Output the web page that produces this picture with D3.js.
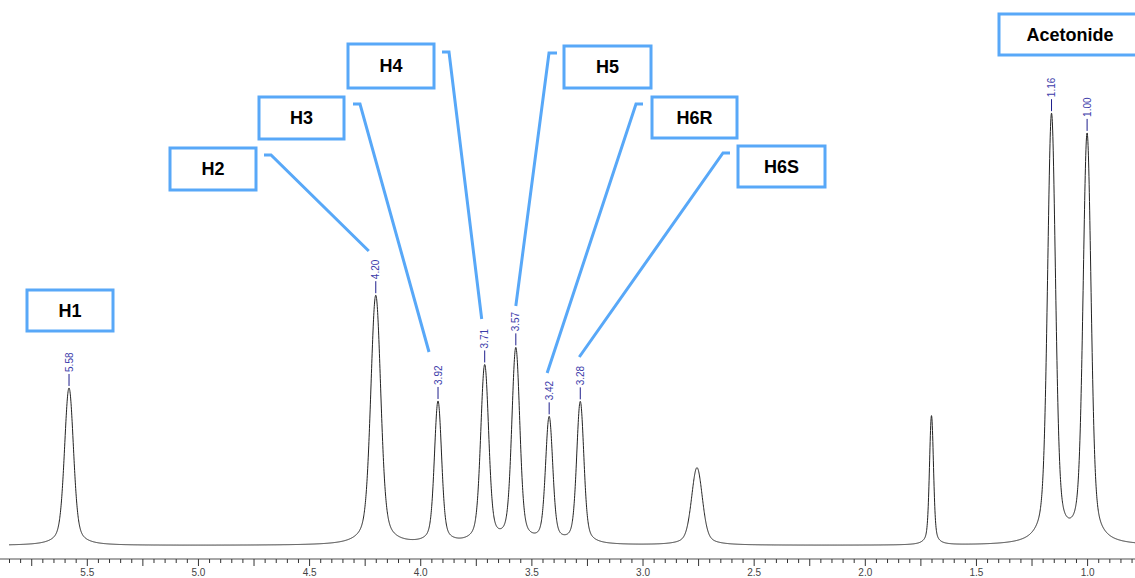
<!DOCTYPE html>
<html>
<head>
<meta charset="utf-8">
<script src="https://cdn.jsdelivr.net/npm/d3@7"></script>
<style>
  html, body { margin: 0; padding: 0; background: #fff; }
  svg { display: block; font-family: "Liberation Sans", Arial, sans-serif; }
</style>
</head>
<body>
<svg id="chart" width="1135" height="578"></svg>
<script>
// ---- data ----
const peakPpm       = [5.58, 4.20, 3.92, 3.71, 3.57, 3.42, 3.28, 2.755, 1.70, 1.16, 1.00];
const peakHeight    = [36.4, 57.7, 32.8, 41.0, 44.9, 28.9, 32.8, 17.9, 29.9, 99.1, 94.5];
const peakWidth     = [0.045, 0.05, 0.036, 0.04, 0.04, 0.036, 0.036, 0.054, 0.02, 0.04, 0.04];
const labeledPpm    = [5.58, 4.20, 3.92, 3.71, 3.57, 3.42, 3.28, 1.16, 1.00];
const labeledText   = ["5.58", "4.20", "3.92", "3.71", "3.57", "3.42", "3.28", "1.16", "1.00"];
const assignNames   = ["H1", "H2", "H3", "H4", "H5", "H6R", "H6S", "Acetonide"];
const assignPpm     = [5.58, 4.20, 3.92, 3.71, 3.57, 3.42, 3.28, 1.16];
const tickLabels    = ["5.5", "5.0", "4.5", "4.0", "3.5", "3.0", "2.5", "2.0", "1.5", "1.0"];

// ---- layout (annotation boxes, leaders) ----
const boxLayout = [
  {x: 27,  y: 290, w: 86,  h: 41, lead: null},
  {x: 170, y: 148, w: 86,  h: 42, lead: [[264,155],[271,155]], dx: -7,  endY: 251},
  {x: 259, y: 97,  w: 85,  h: 42, lead: [[353,104],[360,104]], dx: -9,  endY: 352},
  {x: 348, y: 44,  w: 86,  h: 44, lead: [[442,52],[449,52]],   dx: -3,  endY: 319},
  {x: 564, y: 46,  w: 87,  h: 42, lead: [[557,53],[549,53]],   dx: 0,   endY: 306},
  {x: 652, y: 97,  w: 85,  h: 41, lead: [[643,104],[636,104]], dx: -2,  endY: 373},
  {x: 738, y: 146, w: 87,  h: 41, lead: [[730,153],[723,153]], dx: -1,  endY: 357},
  {x: 999, y: 14,  w: 142, h: 41, lead: null}
];

const svg = d3.select("#chart");
const x = d3.scaleLinear().domain([5.85, 0.78]).range([9, 1136]);
const y = d3.scaleLinear().domain([0, 100]).range([545.5, 113]);

const eta = 0.3, LN2 = Math.LN2;
function intensity(p) {
  let s = 0;
  for (let i = 0; i < peakPpm.length; i++) {
    const d = p - peakPpm[i], w = peakWidth[i];
    const g = Math.exp(-4 * LN2 * (d / w) * (d / w));
    const wl = 1.4 * w;
    const l = 1 / (1 + (2 * d / wl) * (2 * d / wl));
    s += peakHeight[i] * ((1 - eta) * g + eta * l);
  }
  return s;
}

// spectrum trace
const samples = d3.range(5.85, 0.7799, -0.0008).map(p => [p, intensity(p)]);
svg.append("path")
  .datum(samples)
  .attr("fill", "none")
  .attr("stroke", "#222")
  .attr("stroke-width", 1)
  .attr("d", d3.line().x(d => x(d[0])).y(d => y(d[1])));

// axis
const tickVals = d3.range(16, 118).map(i => +(i * 0.05).toFixed(2));
const labelSet = new Map(tickLabels.map(t => [+t, t]));
const axis = d3.axisBottom(x)
  .tickValues(tickVals)
  .tickSize(7)
  .tickSizeOuter(0)
  .tickPadding(3)
  .tickFormat(d => labelSet.has(d) ? labelSet.get(d) : "");
const gAxis = svg.append("g").attr("transform", "translate(0,559)").call(axis);
gAxis.select(".domain").attr("stroke", "#8a8a8a").attr("stroke-width", 1.6)
  .attr("d", "M0,0H1135");
gAxis.selectAll(".tick line")
  .attr("stroke", "#333")
  .attr("y2", d => (Math.abs(d / 0.25 - Math.round(d / 0.25)) < 1e-6) ? 7 : 4);
gAxis.selectAll(".tick text")
  .attr("fill", "#444")
  .style("font-size", "10px")
  .style("font-family", "'Liberation Sans', Arial, sans-serif");

// peak labels
const pl = svg.append("g");
labeledPpm.forEach((p, i) => {
  const px = x(p), top = y(intensity(p));
  pl.append("line")
    .attr("x1", px).attr("x2", px)
    .attr("y1", top - 2).attr("y2", top - 14)
    .attr("stroke", "#1e1e8c").attr("stroke-width", 1);
  pl.append("text")
    .attr("transform", `translate(${px},${top - 16}) rotate(-90)`)
    .attr("dy", "0.35em")
    .attr("text-anchor", "start")
    .attr("fill", "#3c3caa")
    .style("font-size", "10px")
    .text(labeledText[i]);
});

// assignment boxes and leader lines
const blue = "#58a8f8";
const ann = svg.append("g");
assignNames.forEach((name, i) => {
  const b = boxLayout[i];
  ann.append("rect")
    .attr("x", b.x).attr("y", b.y).attr("width", b.w).attr("height", b.h)
    .attr("fill", "#fff").attr("stroke", blue).attr("stroke-width", 3);
  ann.append("text")
    .attr("x", b.x + b.w / 2).attr("y", b.y + b.h / 2)
    .attr("dy", "0.36em")
    .attr("text-anchor", "middle")
    .attr("fill", "#000")
    .style("font-size", "18px").style("font-weight", "bold")
    .text(name);
  if (b.lead) {
    const pts = [b.lead[0], b.lead[1], [x(assignPpm[i]) + b.dx, b.endY]];
    ann.append("path")
      .attr("d", d3.line()(pts))
      .attr("fill", "none").attr("stroke", blue).attr("stroke-width", 3);
  }
});
</script>
</body>
</html>
